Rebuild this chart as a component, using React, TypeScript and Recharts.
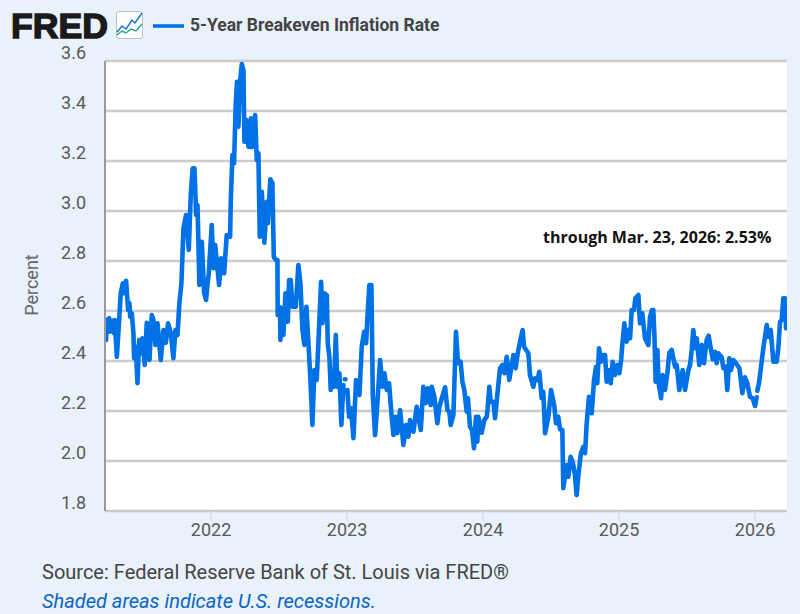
import React from "react";
import { LineChart, Line, XAxis, YAxis, CartesianGrid } from "recharts";

const years: number[] = [
2021.228,2021.233,2021.25,2021.258,2021.275,2021.287,2021.292,2021.307,2021.321,2021.336,2021.351,2021.36,2021.375,2021.39,2021.4,2021.405,2021.417,2021.429,2021.434,2021.446,2021.459,2021.471,2021.483,2021.495,2021.512,2021.527,2021.547,2021.564,2021.576,2021.591,2021.606,2021.63,2021.65,2021.667,2021.684,2021.704,2021.723,2021.738,2021.753,2021.767,2021.782,2021.797,2021.816,2021.836,2021.851,2021.865,2021.878,2021.89,2021.9,2021.905,2021.914,2021.932,2021.949,2021.963,2021.976,2021.983,
2022.005,2022.017,2022.03,2022.047,2022.059,2022.074,2022.096,2022.115,2022.14,2022.145,2022.157,2022.169,2022.181,2022.191,2022.201,2022.213,2022.226,2022.238,2022.245,2022.26,2022.275,2022.294,2022.299,2022.324,2022.336,2022.348,2022.358,2022.373,2022.392,2022.409,2022.417,2022.436,2022.451,2022.461,2022.476,2022.488,2022.49,2022.507,2022.51,2022.52,2022.532,2022.547,2022.564,2022.574,2022.586,2022.598,2022.623,2022.642,2022.657,2022.672,2022.686,2022.701,2022.716,2022.73,2022.745,2022.76,2022.777,2022.789,2022.809,2022.819,2022.833,2022.851,2022.858,2022.87,2022.88,2022.895,2022.904,2022.917,2022.929,2022.944,2022.958,2022.973,2022.978,2022.983,2022.988,2022.995,
2023.002,2023.015,2023.029,2023.047,2023.066,2023.091,2023.108,2023.125,2023.14,2023.15,2023.164,2023.179,2023.189,2023.206,2023.218,2023.243,2023.26,2023.275,2023.292,2023.309,2023.326,2023.341,2023.358,2023.37,2023.39,2023.414,2023.434,2023.451,2023.463,2023.488,2023.512,2023.542,2023.561,2023.578,2023.593,2023.615,2023.623,2023.642,2023.664,2023.679,2023.721,2023.738,2023.752,2023.762,2023.782,2023.801,2023.816,2023.835,2023.848,2023.862,2023.88,2023.889,2023.904,2023.919,2023.933,2023.948,2023.958,2023.965,2023.99,
2024.009,2024.027,2024.034,2024.046,2024.056,2024.076,2024.088,2024.107,2024.125,2024.142,2024.157,2024.174,2024.193,2024.223,2024.24,2024.255,2024.272,2024.291,2024.301,2024.333,2024.345,2024.37,2024.382,2024.399,2024.414,2024.431,2024.443,2024.456,2024.48,2024.5,2024.524,2024.536,2024.553,2024.566,2024.583,2024.59,2024.615,2024.627,2024.644,2024.659,2024.676,2024.688,2024.701,2024.72,2024.737,2024.75,2024.762,2024.779,2024.799,2024.816,2024.831,2024.84,2024.853,2024.867,2024.884,2024.897,2024.909,2024.929,2024.939,2024.953,2024.97,2024.988,
2025.002,2025.015,2025.024,2025.039,2025.056,2025.068,2025.081,2025.093,2025.11,2025.12,2025.142,2025.154,2025.171,2025.191,2025.215,2025.228,2025.242,2025.252,2025.26,2025.269,2025.282,2025.291,2025.309,2025.321,2025.338,2025.355,2025.37,2025.387,2025.412,2025.424,2025.443,2025.468,2025.485,2025.51,2025.522,2025.534,2025.546,2025.559,2025.571,2025.59,2025.608,2025.625,2025.644,2025.659,2025.674,2025.689,2025.706,2025.718,2025.73,2025.755,2025.767,2025.784,2025.796,2025.811,2025.823,2025.84,2025.86,2025.885,2025.907,2025.926,2025.943,2025.963,2025.983,
2026.0,2026.012,2026.015,2026.017,2026.029,2026.044,2026.061,2026.086,2026.098,2026.115,2026.135,2026.159,2026.171,2026.184,2026.196,2026.208,2026.22,2026.228,
];

const rates: (number | null)[] = [
2.484,2.564,2.571,2.517,2.561,2.511,2.564,2.417,2.537,2.671,2.711,2.671,2.721,2.604,2.631,2.577,2.591,2.511,2.411,2.457,2.311,2.484,2.431,2.491,2.384,2.553,2.404,2.584,2.564,2.464,2.551,2.404,2.524,2.473,2.551,2.511,2.411,2.524,2.504,2.631,2.711,2.931,2.984,2.844,3.071,3.171,3.171,2.984,3.024,2.917,2.704,2.877,2.671,2.644,2.717,2.751,
2.944,2.771,2.864,2.771,2.704,2.811,2.751,2.904,2.897,3.044,3.224,3.191,3.424,3.517,3.337,3.517,3.588,3.564,3.277,3.364,3.257,3.371,3.255,3.384,3.204,3.231,2.897,3.077,2.873,3.037,2.951,3.127,3.111,2.817,2.804,2.804,2.584,2.615,2.484,2.611,2.504,2.671,2.557,2.724,2.724,2.617,2.617,2.784,2.711,2.524,2.464,2.617,2.471,2.331,2.144,2.364,2.324,2.471,2.717,2.551,2.671,2.664,2.471,2.417,2.284,2.337,2.297,2.504,2.297,2.351,2.144,2.304,null,2.327,2.327,null,
2.284,2.177,2.211,2.091,2.324,2.264,2.457,2.517,2.471,2.577,2.704,2.704,2.264,2.104,2.191,2.404,2.297,2.351,2.284,2.311,2.191,2.104,2.177,2.111,2.204,2.064,2.144,2.097,2.164,2.117,2.217,2.124,2.297,2.231,2.291,2.224,2.297,2.257,2.151,2.217,2.295,2.204,2.197,2.144,2.184,2.517,2.391,2.397,2.317,2.284,2.197,2.251,2.137,2.124,2.051,2.177,2.077,2.177,2.113,
2.164,2.177,2.211,2.297,2.237,2.237,2.171,2.277,2.371,2.384,2.351,2.417,2.324,2.424,2.371,2.431,2.477,2.524,2.457,2.431,2.344,2.297,2.331,2.324,2.357,2.251,2.277,2.111,2.177,2.284,2.22,2.151,2.177,2.127,2.124,1.891,1.984,1.937,2.017,1.997,1.944,1.864,1.944,2.031,2.057,2.031,2.151,2.257,2.191,2.324,2.377,2.311,2.451,2.397,2.424,2.424,2.317,2.364,2.311,2.397,2.344,2.384,
2.351,2.404,2.464,2.551,2.477,2.524,2.491,2.604,2.604,2.651,2.664,2.551,2.591,2.491,2.464,2.577,2.604,2.604,2.504,2.317,2.444,2.311,2.251,2.344,2.284,2.351,2.433,2.444,2.377,2.384,2.284,2.364,2.284,2.364,2.384,2.444,2.524,2.451,2.491,2.384,2.464,2.391,2.484,2.501,2.451,2.407,2.437,2.391,2.431,2.415,2.371,2.377,2.284,2.411,2.364,2.404,2.391,2.371,2.271,2.335,2.311,2.257,2.251,
2.22,2.255,null,2.281,2.311,2.377,2.451,2.544,2.497,2.524,2.397,2.397,2.451,2.557,2.564,2.651,2.651,2.531,
];

const yTicks = [1.8, 2.0, 2.2, 2.4, 2.6, 2.8, 3.0, 3.2, 3.4, 3.6];
const xTicks = [2022, 2023, 2024, 2025, 2026];
const seriesName = "5-Year Breakeven Inflation Rate";
const annotation = "through Mar. 23, 2026: 2.53%";
const sourceText = "Source: Federal Reserve Bank of St. Louis via FRED®";
const noteText = "Shaded areas indicate U.S. recessions.";

const rows = years.map((year, i) => ({ year, rate: rates[i] }));
const LINE = "#0072e6";
const FONT = "Roboto, sans-serif";

const abs = (s: React.CSSProperties): React.CSSProperties => ({ position: "absolute", whiteSpace: "nowrap", lineHeight: 1, ...s });

const YTick = (p: any) => (
  <text x={86} y={p.y - 2} textAnchor="end" fontFamily={FONT} fontSize={18} fill="#595959">
    {Number(p.payload.value).toFixed(1)}
  </text>
);

export default function App() {
  return (
    <div style={{ position: "absolute", left: 0, top: 0, width: 800, height: 614, background: "#e9f1fa", overflow: "hidden", fontFamily: FONT }}>
      <LineChart width={800} height={614} data={rows} margin={{ top: 61, right: 13, bottom: 0, left: 0 }}>
        <CartesianGrid vertical={false} horizontal stroke="#cccccc" strokeWidth={2.5} fill="#ffffff" horizontalValues={yTicks} />
        <XAxis
          dataKey="year"
          type="number"
          domain={[2021.22, 2026.235]}
          ticks={xTicks}
          allowDataOverflow
          tickFormatter={(v: number) => String(v)}
          tick={{ fontFamily: FONT, fontSize: 18, fill: "#595959" }}
          tickLine={{ stroke: "#ccd6eb", strokeWidth: 1 }}
          tickSize={10}
          tickMargin={2}
          axisLine={{ stroke: "#c8c8c8", strokeWidth: 2 }}
          height={103}
        />
        <YAxis
          type="number"
          domain={[1.8, 3.6]}
          ticks={yTicks}
          width={105}
          interval={0}
          tick={<YTick />}
          tickLine={false}
          axisLine={{ stroke: "#999999", strokeWidth: 2 }}
        />
        <Line
          dataKey="rate"
          type="linear"
          stroke={LINE}
          strokeWidth={4.6}
          strokeLinejoin="round"
          strokeLinecap="round"
          dot={false}
          connectNulls={false}
          isAnimationActive={false}
        />
      </LineChart>

      <svg width={800} height={614} style={{ position: "absolute", left: 0, top: 0, pointerEvents: "none" }}>
        <text x={11} y={38} fontFamily="'Liberation Sans', Arial, sans-serif" fontWeight={700} fontSize={35} fill="#1a1a1a" stroke="#1a1a1a" strokeWidth={1.4} textLength={97} lengthAdjust="spacingAndGlyphs">FRED</text>
        <rect x={116.5} y={11.5} width={26} height={27} rx={2.5} fill="#ffffff" stroke="#b8bfc6" strokeWidth={1} />
        <polyline points="117,32 122,26 126,29 132,20 135,23 142,13" fill="none" stroke="#1173c9" strokeWidth={1.4} />
        <polyline points="117,35 122,31 126,33 131,29 136,31 142,24" fill="none" stroke="#2a9d8f" strokeWidth={1.4} />
        <line x1={153} y1={26} x2={184} y2={26} stroke={LINE} strokeWidth={3.6} />
        <text x={33} y={285} transform="rotate(-90 33 285)" textAnchor="middle" dominantBaseline="middle" fontFamily={FONT} fontSize={18} fill="#666666">Percent</text>
      </svg>

      <div style={abs({ left: 190, top: 17, fontSize: 17.5, fontWeight: 700, color: "#444444" })}>{seriesName}</div>
      <div style={abs({ left: 543, top: 229, fontFamily: "'Open Sans', sans-serif", fontSize: 16, fontWeight: 700, color: "#111111" })}>{annotation}</div>
      <div style={abs({ left: 42, top: 562, fontSize: 20, color: "#444444" })}>{sourceText}</div>
      <div style={abs({ left: 42, top: 591, fontSize: 20, fontStyle: "italic", color: "#0a66c2" })}>{noteText}</div>
    </div>
  );
}
